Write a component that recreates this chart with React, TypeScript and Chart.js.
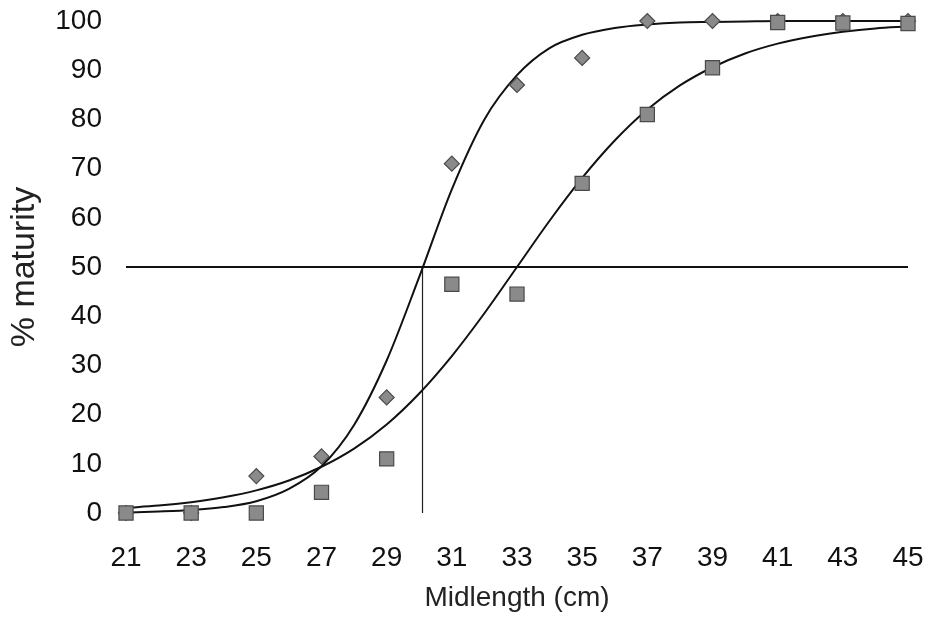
import { useEffect, useRef } from "react";
import { Chart, registerables } from "chart.js";

Chart.register(...registerables);

// Observed size classes (cm) and % mature
const sizeClasses = [21, 23, 25, 27, 29, 31, 33, 35, 37, 39, 41, 43, 45];
const femaleMaturity = [0, 0, 7.5, 11.5, 23.5, 71, 87, 92.5, 100, 100, 100, 100, 100];
const maleMaturity = [0, 0, 0, 4.2, 11, 46.5, 44.5, 67, 81, 90.5, 99.7, 99.6, 99.5];

// Fitted curves at each cm
const fitLengths = [21, 22, 23, 24, 25, 26, 27, 28, 29, 30, 31, 32, 33, 34, 35, 36, 37, 38, 39, 40, 41, 42, 43, 44, 45];
const femaleFit = [0.1, 0.3, 0.6, 1.2, 2.4, 4.9, 9.5, 17.9, 31, 48, 65.8, 80, 89, 94.5, 97.2, 98.6, 99.3, 99.7, 99.8, 99.9, 100, 100, 100, 100, 100];
const maleFit = [1.05, 1.5, 2.2, 3.2, 4.6, 6.6, 9.4, 13.1, 18, 24.3, 31.9, 40.6, 50, 59.4, 68.1, 75.7, 82, 86.9, 90.6, 93.4, 95.4, 96.8, 97.8, 98.5, 98.9];

// Reference lines
const fiftyLineX = [21, 45];
const fiftyLineY = [50, 50];
const l50LineX = [30.1, 30.1];
const l50LineY = [0, 50];

const xTicks = [21, 23, 25, 27, 29, 31, 33, 35, 37, 39, 41, 43, 45];

const toPts = (xs: number[], ys: number[]) => xs.map((x, i) => ({ x, y: ys[i] }));

const FONT = "'Liberation Sans', Arial, sans-serif";

export default function App() {
  const ref = useRef<HTMLCanvasElement>(null);

  useEffect(() => {
    if (!ref.current) return;
    const chart = new Chart(ref.current, {
      type: "scatter",
      data: {
        datasets: [
          {
            label: "Males",
            data: toPts(sizeClasses, maleMaturity),
            pointStyle: "rect",
            pointRadius: 10,
            pointHoverRadius: 10,
            backgroundColor: "#8a8a8a",
            borderColor: "#4a4a4a",
            borderWidth: 1.2,
            showLine: false,
            clip: false,
          },
          {
            label: "Females",
            data: toPts(sizeClasses, femaleMaturity),
            pointStyle: "rectRot",
            pointRadius: 7.5,
            pointHoverRadius: 7.5,
            backgroundColor: "#8a8a8a",
            borderColor: "#4a4a4a",
            borderWidth: 1.2,
            showLine: false,
            clip: false,
          },
          {
            label: "Female fit",
            data: toPts(fitLengths, femaleFit),
            showLine: true,
            pointRadius: 0,
            borderColor: "#111",
            borderWidth: 2,
            cubicInterpolationMode: "monotone",
            fill: false,
            clip: false,
          },
          {
            label: "Male fit",
            data: toPts(fitLengths, maleFit),
            showLine: true,
            pointRadius: 0,
            borderColor: "#111",
            borderWidth: 2,
            cubicInterpolationMode: "monotone",
            fill: false,
            clip: false,
          },
          {
            label: "50%",
            data: toPts(fiftyLineX, fiftyLineY),
            showLine: true,
            pointRadius: 0,
            borderColor: "#111",
            borderWidth: 1.8,
            clip: false,
          },
          {
            label: "L50",
            data: toPts(l50LineX, l50LineY),
            showLine: true,
            pointRadius: 0,
            borderColor: "#222",
            borderWidth: 1.2,
            clip: false,
          },
        ],
      },
      options: {
        responsive: false,
        animation: false,
        devicePixelRatio: 1,
        layout: { autoPadding: false, padding: { top: 21, right: 21, left: 0, bottom: 0 } },
        plugins: {
          legend: { display: false },
          tooltip: { enabled: false },
        },
        scales: {
          x: {
            type: "linear",
            min: 21,
            max: 45,
            grid: { display: false, drawTicks: false },
            border: { display: false },
            afterBuildTicks: (s: any) => {
              s.ticks = xTicks.map((v) => ({ value: v }));
            },
            afterFit: (s: any) => {
              s.height = 113;
              s.paddingLeft = 0;
              s.paddingRight = 0;
            },
            ticks: {
              padding: 28,
              color: "#111",
              font: { family: FONT, size: 28 },
              maxRotation: 0,
              autoSkip: false,
            },
            title: {
              display: true,
              text: "Midlength (cm)",
              color: "#222",
              font: { family: FONT, size: 28 },
              padding: { top: 0, bottom: 11 },
            },
          },
          y: {
            type: "linear",
            min: 0,
            max: 100,
            grid: { display: false, drawTicks: false },
            border: { display: false },
            afterFit: (s: any) => {
              s.width = 126;
              s.paddingTop = 0;
              s.paddingBottom = 0;
            },
            ticks: {
              stepSize: 10,
              padding: 24,
              color: "#111",
              font: { family: FONT, size: 28 },
            },
            title: {
              display: true,
              text: "% maturity",
              color: "#222",
              font: { family: FONT, size: 34 },
              padding: { top: 4, bottom: 0 },
            },
          },
        },
      },
    });
    return () => chart.destroy();
  }, []);

  return (
    <div style={{ position: "fixed", left: 0, top: 0, width: 929, height: 626, background: "#fff" }}>
      <canvas ref={ref} width={929} height={626} style={{ display: "block", width: 929, height: 626 }} />
    </div>
  );
}
